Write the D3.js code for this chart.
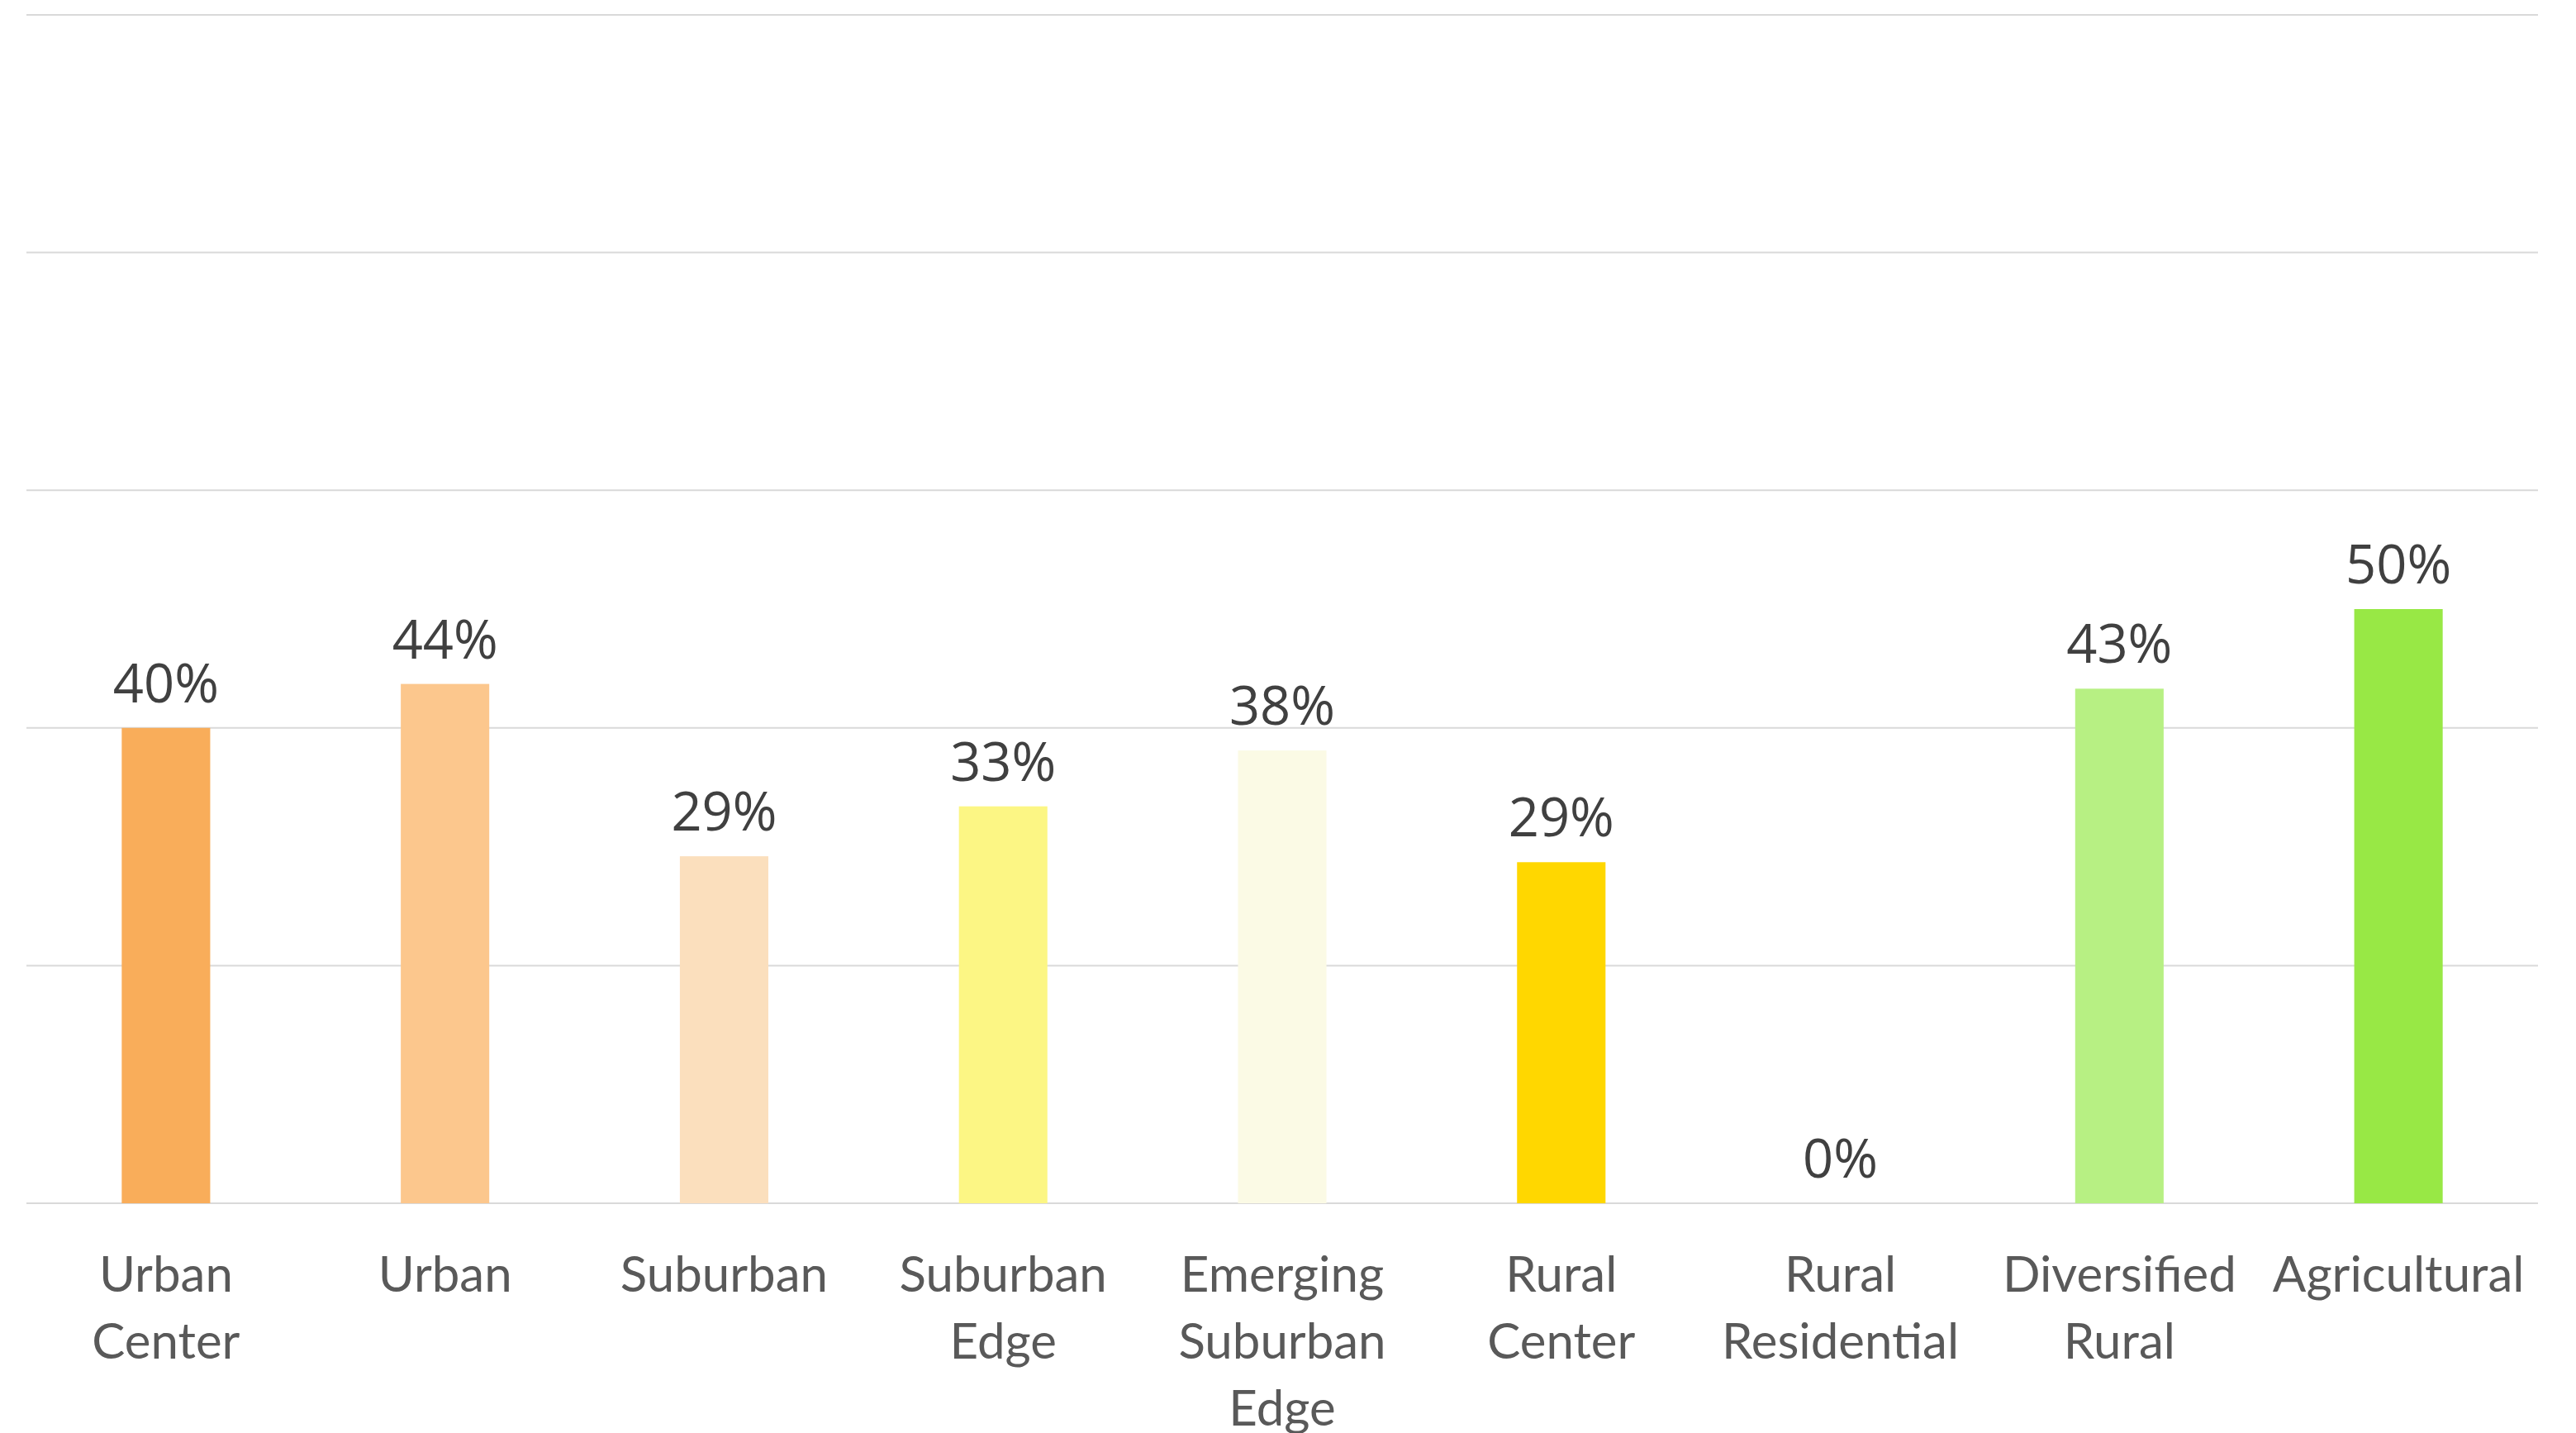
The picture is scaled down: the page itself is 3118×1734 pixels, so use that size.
<!DOCTYPE html>
<html><head><meta charset="utf-8">
<script src="https://cdn.jsdelivr.net/npm/d3@7"></script>
<style>html,body{margin:0;padding:0;background:#fff;}svg{display:block;}</style>
</head><body>
<svg id="chart" width="3118" height="1734"></svg>
<script>
const categories = ["Urban Center","Urban","Suburban","Suburban Edge","Emerging Suburban Edge","Rural Center","Rural Residential","Diversified Rural","Agricultural"];
const values = [0.40, 0.437, 0.292, 0.334, 0.381, 0.287, 0, 0.433, 0.50];
const colors = ["#F9AD5A","#FCC78D","#FBDFBD","#FCF684","#FBFAE5","#FFD700","#D9D9D9","#B7F083","#98E845"];
const yTicks = [0, 0.2, 0.4, 0.6, 0.8, 1.0];

const svg = d3.select("#chart");
const plotLeft = 32, plotRight = 3072, plotTop = 18, plotBottom = 1456;

const x = d3.scaleBand().domain(categories).range([plotLeft, plotRight]).paddingInner(0.683).paddingOuter(0.3415);
const y = d3.scaleLinear().domain([0, 1]).range([plotBottom, plotTop]);

// gridlines
svg.append("g").selectAll("line").data(yTicks).join("line")
  .attr("x1", plotLeft).attr("x2", plotRight)
  .attr("y1", d => y(d)).attr("y2", d => y(d))
  .attr("stroke", "#D9D9D9").attr("stroke-width", 2);

// bars
svg.append("g").selectAll("rect").data(categories).join("rect")
  .attr("x", d => x(d)).attr("width", x.bandwidth())
  .attr("y", (d,i) => y(values[i])).attr("height", (d,i) => y(0) - y(values[i]))
  .attr("fill", (d,i) => colors[i]);

// data labels
svg.append("g").selectAll("text").data(categories).join("text")
  .attr("x", d => x(d) + x.bandwidth()/2)
  .attr("y", (d,i) => y(values[i]) - 31)
  .attr("text-anchor", "middle")
  .attr("font-family", "'Open Sans', sans-serif")
  .attr("font-size", 65)
  .attr("fill", "#404040")
  .text((d,i) => d3.format(".0%")(values[i]));

// category labels
const cat = svg.append("g").selectAll("text").data(categories).join("text")
  .attr("x", d => x(d) + x.bandwidth()/2)
  .attr("y", 1563)
  .attr("text-anchor", "middle")
  .attr("font-family", "Lato, 'Open Sans', sans-serif")
  .attr("font-size", 60)
  .attr("fill", "#595959");
cat.each(function(d){
  const words = d.split(" ");
  d3.select(this).selectAll("tspan").data(words).join("tspan")
    .attr("x", x(d) + x.bandwidth()/2)
    .attr("dy", (w,i) => i === 0 ? 0 : 81)
    .text(w => w);
});
</script>
</body></html>
